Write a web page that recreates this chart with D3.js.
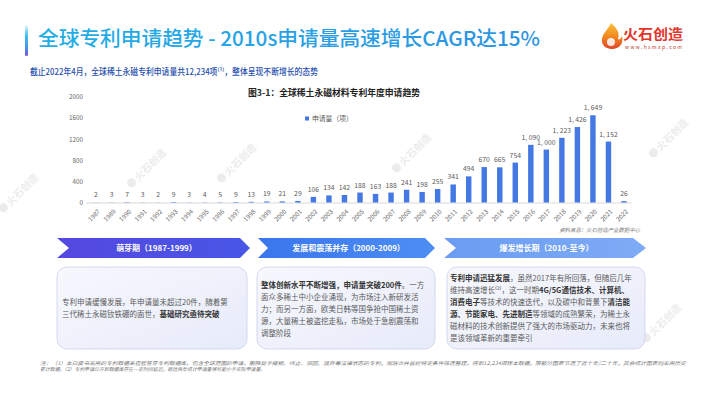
<!DOCTYPE html>
<html>
<head>
<meta charset="utf-8">
<script src="https://cdn.jsdelivr.net/npm/d3@7"></script>
<style>
  body { margin: 0; background: #fff; }
  svg { display: block; font-family: "Noto Sans CJK SC", "Noto Sans", sans-serif; }
</style>
</head>
<body>
<svg id="chart" width="710" height="398"></svg>
<script>
// ---- data ----
const years = ["1987","1989","1990","1991","1992","1993","1994","1995","1996","1997","1998","1999",
  "2000","2001","2002","2003","2004","2005","2006","2007","2008","2009","2010","2011","2012",
  "2013","2014","2015","2016","2017","2018","2019","2020","2021","2022"];
const applications = [2,3,7,3,2,9,3,4,5,9,13,19,21,29,106,134,142,188,163,188,241,198,255,341,494,
  670,665,754,1090,1000,1223,1426,1649,1152,26];
const yTicks = [0,400,800,1200,1600,2000];
const seriesName = "申请量（项）";
const phaseNames = ["萌芽期（1987-1999）","发展和震荡并存（2000-2009）","爆发增长期（2010-至今）"];
// box text: each line is a list of [text, bold]
const phaseText = [
  [
    [[" 专利申请缓慢发展，年申请量未超过20件，随着第", false]],
    [["三代稀土永磁钕铁硼的面世，", false], ["基础研究亟待突破", true]]
  ],
  [
    [["整体创新水平不断增强，申请量突破200件", true], ["。一方", false]],
    [["面众多稀土中小企业涌现，为市场注入新研发活", false]],
    [["力；而另一方面，欧美日韩等国争抢中国稀土资", false]],
    [["源，大量稀土被盗挖走私，市场处于急剧震荡和", false]],
    [["调整阶段", false]]
  ],
  [
    [["专利申请迅猛发展", true], ["，虽然2017年有所回落，但随后几年", false]],
    [["维持高速增长⁽²⁾，这一时期", false], ["4G/5G通信技术、计算机、", true]],
    [["消费电子", true], ["等技术的快速迭代，以及碳中和背景下", false], ["清洁能", true]],
    [["源、节能家电、先进制造", true], ["等领域的成熟繁荣，为稀土永", false]],
    [["磁材料的技术创新提供了强大的市场驱动力，未来也将", false]],
    [["是该领域革新的重要牵引", false]]
  ]
];
const footnotes = [
  "注：（1）本白皮书采用的专利数据来自智慧芽专利数据库，包含全球范围的申请，删除处于撤销、终止、驳回、放弃等法律状态的专利，同族合并且经特定条件筛选整理，得到12,234项样本数据，限部分图表节选了近十年/二十年，其余统计图表均采用历史",
  "累计数据。（2）专利申请公开到数据库存在一定时间延迟，故近两年统计申请量将可能小于实际申请量。"
];

const svg = d3.select("#chart");
const defs = svg.append("defs");

function linGrad(id, x2, y2, stops) {
  const g = defs.append("linearGradient").attr("id", id)
    .attr("x1", 0).attr("y1", 0).attr("x2", x2).attr("y2", y2);
  stops.forEach(s => g.append("stop").attr("offset", s[0]).attr("stop-color", s[1]));
}
linGrad("accent", 0, 1, [[0, "#e6f7ff"], [0.35, "#39c0f0"], [0.75, "#4a8fe8"], [1, "#7a55d8"]]);
linGrad("titleGrad", 1, 0, [[0, "#22aee6"], [1, "#2d93e2"]]);
linGrad("arrow0", 1, 0, [[0, "#5548e0"], [1, "#4756e6"]]);
linGrad("arrow1", 1, 0, [[0, "#3a76ec"], [1, "#4d8ef4"]]);
linGrad("arrow2", 1, 0, [[0, "#6a9cf2"], [1, "#7eabf5"]]);
linGrad("boxGrad", 1, 1, [[0, "#f7f8fe"], [1, "#e7ebf9"]]);
linGrad("flame", 0, 1, [[0, "#f9c23c"], [0.5, "#f28a1e"], [1, "#e2452a"]]);

// ---- watermarks (kept in empty spots) ----
const wm = svg.append("g").attr("class", "watermarks");
[[12,205],[140,180],[230,175],[405,165],[662,150],[655,335]]
  .forEach(p => {
    const g = wm.append("g").attr("transform", `translate(${p[0]},${p[1]}) rotate(-45)`);
    g.append("circle").attr("cx", -8).attr("cy", -4).attr("r", 4.5).attr("fill", "#ececec");
    g.append("text").attr("x", -2).attr("y", 0).attr("font-size", 10).attr("font-weight", "bold")
      .attr("fill", "#ececec").text("火石创造");
  });

// ---- header ----
svg.append("rect").attr("x", 25).attr("y", 25).attr("width", 3).attr("height", 31)
  .attr("rx", 1.5).attr("fill", "url(#accent)");
svg.append("text").attr("x", 38).attr("y", 46).attr("font-size", 20.5).attr("font-weight", 500)
  .attr("fill", "url(#titleGrad)").attr("textLength", 502).attr("lengthAdjust", "spacingAndGlyphs")
  .text("全球专利申请趋势 - 2010s申请量高速增长CAGR达15%");

svg.append("text").attr("x", 30).attr("y", 75).attr("font-size", 8.6).attr("font-weight", 500)
  .attr("fill", "#1f4fae").attr("textLength", 288).attr("lengthAdjust", "spacingAndGlyphs")
  .text("截止2022年4月，全球稀土永磁专利申请量共12,234项⁽¹⁾，整体呈现不断增长的态势");

// logo
const logo = svg.append("g");
logo.append("path").attr("fill", "url(#flame)")
  .attr("d", "M611,23 C608,30 601,34 602,42 C603,47 608,49 612,49 C619,49 624,44 622,36 C621,39 619,40 618,39 C620,33 617,28 611,23 Z");
logo.append("circle").attr("cx", 611).attr("cy", 42).attr("r", 4).attr("fill", "#fff").attr("opacity", 0.85);
logo.append("text").attr("x", 623).attr("y", 39).attr("font-size", 14).attr("font-weight", "bold")
  .attr("fill", "#e2352b").attr("textLength", 60).attr("lengthAdjust", "spacingAndGlyphs").text("火石创造");
logo.append("text").attr("x", 625).attr("y", 49).attr("font-size", 5).attr("fill", "#c0392b")
  .attr("textLength", 57).attr("lengthAdjust", "spacing").text("www.hsmap.com");

// ---- chart ----
svg.append("text").attr("x", 334).attr("y", 96).attr("text-anchor", "middle")
  .attr("font-size", 8.8).attr("font-weight", "bold").attr("fill", "#222")
  .text("图3-1：全球稀土永磁材料专利年度申请趋势");

const x = d3.scaleBand().domain(years).range([88.25, 631.75]).paddingInner(0.65).paddingOuter(0.325);
const y = d3.scaleLinear().domain([0, 2000]).range([202.5, 96.7]);
const barColor = "#4479e3";

const yAxis = svg.append("g").attr("transform", "translate(85,0)")
  .call(d3.axisLeft(y).tickValues(yTicks).tickSize(0).tickPadding(2).tickFormat(d3.format("d")));
yAxis.select(".domain").remove();
yAxis.selectAll("text").attr("font-size", 6.3).attr("fill", "#666").attr("font-family", "Noto Sans CJK SC");

const xAxis = svg.append("g").attr("transform", `translate(0,${y(0)})`)
  .call(d3.axisBottom(x).tickSize(0));
xAxis.select(".domain").attr("stroke", "#d9d9d9").attr("d", `M${x.range()[0] - 2},0.5H${x.range()[1]}`);
xAxis.selectAll("text")
  .attr("font-size", 6.3).attr("fill", "#666").attr("font-family", "Noto Sans CJK SC")
  .attr("y", 0).attr("dy", "0.35em").attr("x", 0)
  .attr("transform", "translate(3,8) rotate(-45)")
  .style("text-anchor", "end");

svg.append("g").selectAll("rect").data(applications).join("rect")
  .attr("x", (d, i) => x(years[i]))
  .attr("width", x.bandwidth())
  .attr("y", d => y(d))
  .attr("height", d => y(0) - y(d))
  .attr("fill", barColor);

const fmt = d3.format(",");
svg.append("g").selectAll("text").data(applications).join("text")
  .attr("x", (d, i) => x(years[i]) + x.bandwidth() / 2)
  .attr("y", d => y(d) - 5)
  .attr("text-anchor", "middle")
  .attr("font-size", 6.8).attr("fill", "#595959")
  .text(d => fmt(d).replace(",", ", "));

// legend
svg.append("rect").attr("x", 305).attr("y", 116.5).attr("width", 4).attr("height", 4).attr("fill", barColor);
svg.append("text").attr("x", 312).attr("y", 121).attr("font-size", 6.8).attr("fill", "#595959").text(seriesName);

svg.append("text").attr("x", 640).attr("y", 232).attr("text-anchor", "end")
  .attr("font-size", 5.4).attr("font-style", "italic").attr("fill", "#777")
  .text("资料来源：火石创造产业数据中心");

// ---- phases ----
const arrowLayout = [
  { x0: 57, notch: 12, xe: 240, tip: 250 },
  { x0: 258, notch: 10, xe: 425, tip: 435 },
  { x0: 444, notch: 12, xe: 633, tip: 646 }
];
const ay0 = 238, ay1 = 258, aym = (ay0 + ay1) / 2;
const arrows = svg.append("g");
arrowLayout.forEach((a, i) => {
  arrows.append("path").attr("fill", `url(#arrow${i})`)
    .attr("d", `M${a.x0},${ay0}L${a.xe},${ay0}L${a.tip},${aym}L${a.xe},${ay1}L${a.x0},${ay1}L${a.x0 + a.notch},${aym}Z`);
  arrows.append("text").attr("x", (a.x0 + a.notch + a.xe) / 2 + 2).attr("y", aym + 3)
    .attr("text-anchor", "middle").attr("font-size", 8).attr("font-weight", "bold")
    .attr("fill", "#fff").text(phaseNames[i]);
});

const boxLayout = [
  { x: 57, w: 190, tx: 62, ty: 305 },
  { x: 257, w: 178, tx: 261, ty: 287.5 },
  { x: 447, w: 198, tx: 450, ty: 280.5 }
];
const boxes = svg.append("g");
boxLayout.forEach((b, i) => {
  boxes.append("rect").attr("x", b.x).attr("y", 267).attr("width", b.w).attr("height", 82)
    .attr("rx", 10).attr("fill", "url(#boxGrad)").attr("stroke", "#c9d1ee").attr("stroke-width", 0.8);
  const t = boxes.append("text").attr("font-size", 7.5).attr("fill", "#555");
  phaseText[i].forEach((line, li) => {
    line.forEach((seg, si) => {
      const ts = t.append("tspan").text(seg[0])
        .attr("font-weight", seg[1] ? "bold" : "normal")
        .attr("fill", seg[1] ? "#333" : "#5a5a5a");
      if (si === 0) ts.attr("x", b.tx).attr("y", b.ty + li * 12.1);
    });
  });
});

// ---- footnote ----
footnotes.forEach((f, i) => {
  const t = svg.append("text").attr("x", 40).attr("y", 365 + i * 6.2)
    .attr("font-size", 4.9).attr("font-style", "italic").attr("fill", "#777").text(f);
  if (i === 0) t.attr("textLength", 646).attr("lengthAdjust", "spacingAndGlyphs");
});
</script>
</body>
</html>
